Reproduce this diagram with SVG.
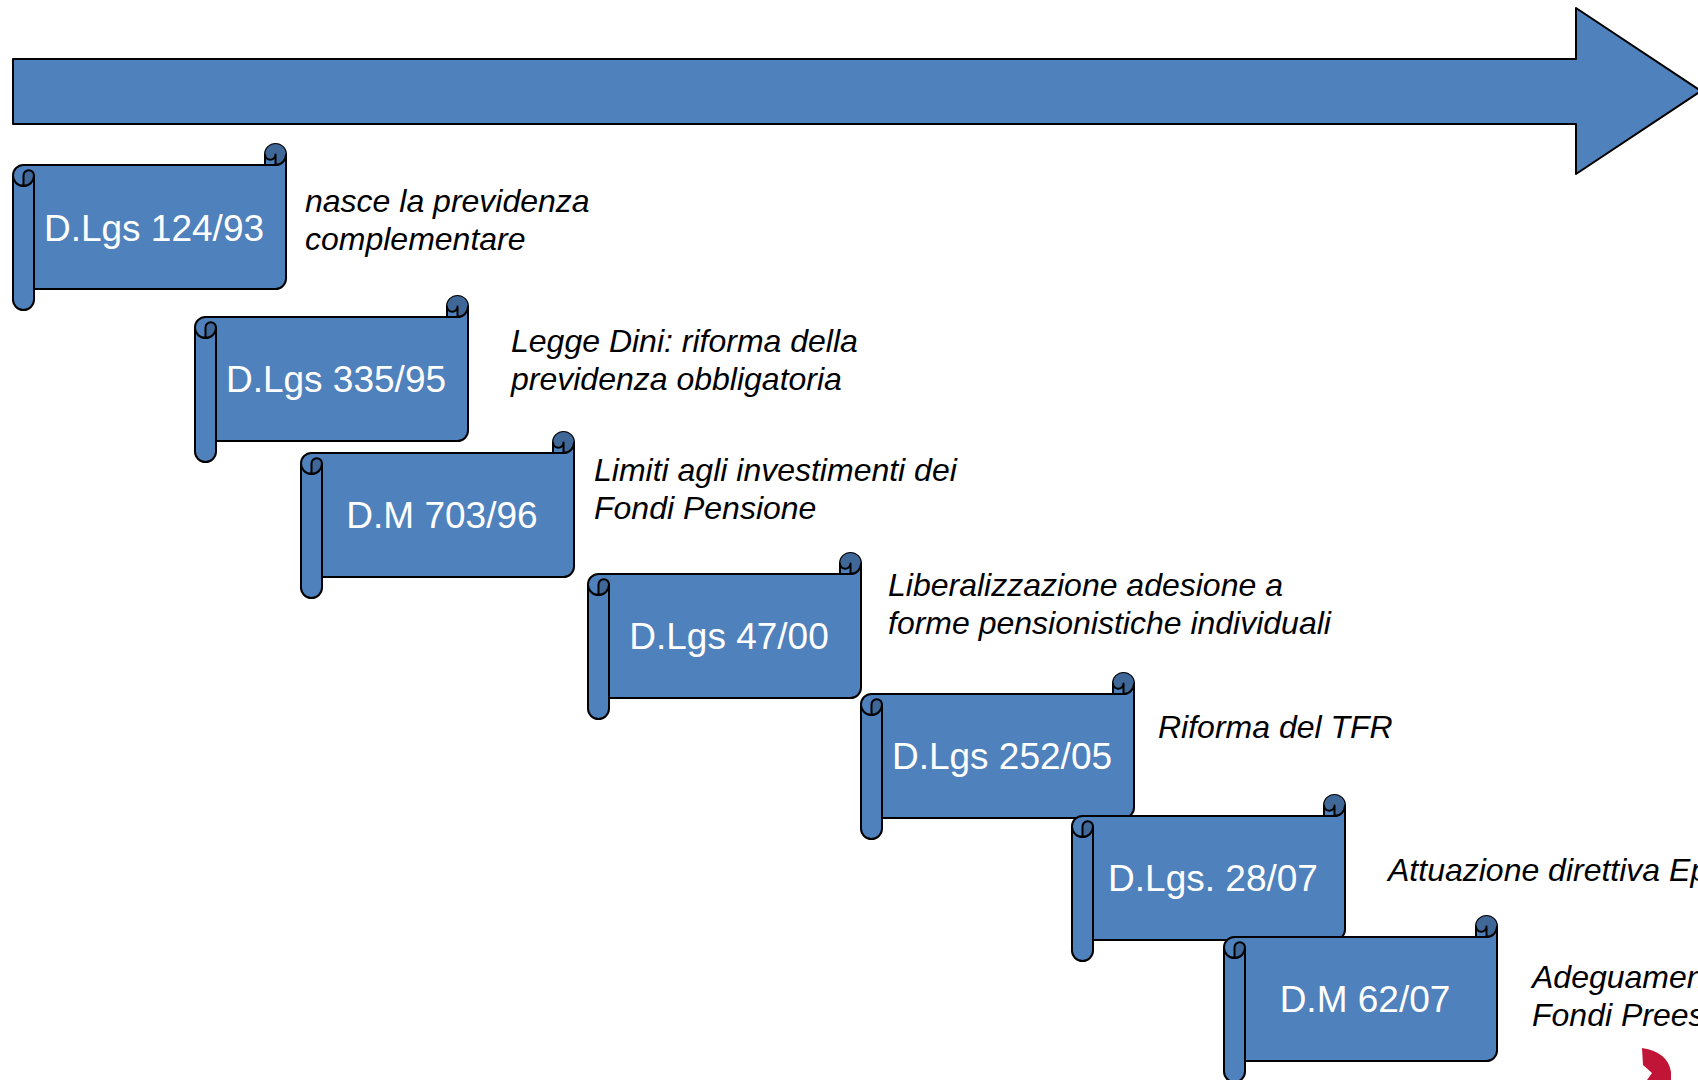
<svg xmlns="http://www.w3.org/2000/svg" xmlns:xlink="http://www.w3.org/1999/xlink" width="1698" height="1080" viewBox="0 0 1698 1080">
  <style>
    .body { fill: #4F81BD; stroke: #000; stroke-width: 2; stroke-linejoin: round; }
    .dark { fill: #3F6797; stroke: none; }
    .line { fill: none; stroke: #000; stroke-width: 2; stroke-linejoin: round; stroke-linecap: round; }
    .label { font-family: "Liberation Sans", Arial, sans-serif; font-size: 37px; fill: #FFFFFF; text-anchor: middle; }
    .desc { font-family: "Liberation Sans", Arial, sans-serif; font-size: 32px; font-style: italic; fill: #000000; }
  </style>
  <defs>
    <g id="scroll">
      <path class="body" d="M0,31.5 A10.5,10.5 0 0 1 10.5,21 L252,21 L252,10.5 A10.5,10.5 0 0 1 273,10.5 L273,134.5 A10.5,10.5 0 0 1 262.5,145 L21,145 L21,155.5 A10.5,10.5 0 0 1 0,155.5 Z"/>
      <path class="dark" d="M10.5,42 A10.5,10.5 0 0 0 21,31.5 A5.25,5.25 0 0 0 10.5,31.5 Z"/>
      <path class="dark" d="M262.5,21 A10.5,10.5 0 1 0 252,10.5 A5.25,5.25 0 0 0 262.5,10.5 Z"/>
      <path class="line" d="M252,21 L262.5,21 A10.5,10.5 0 0 0 273,10.5 M262.5,21 L262.5,10.5 A5.25,5.25 0 0 1 252,10.5 M10.5,42 L10.5,31.5 A5.25,5.25 0 0 1 21,31.5 A10.5,10.5 0 0 1 0,31.5 M21,31.5 L21,145"/>
    </g>
  </defs>

  <g id="timeline-arrow">
    <polygon class="body" points="13,59 1576,59 1576,8 1701,91 1576,174 1576,124 13,124"/>
  </g>

  <g id="connectors"></g>

  <g id="node-dlgs-124-93">
    <use xlink:href="#scroll" href="#scroll" transform="translate(13,144)"/>
    <text class="desc" x="305" y="212">nasce la previdenza<tspan x="305" dy="37.5">complementare</tspan></text>
    <text class="label" x="154" y="241">D.Lgs 124/93</text>
  </g>

  <g id="node-dlgs-335-95">
    <use xlink:href="#scroll" href="#scroll" transform="translate(195,296)"/>
    <text class="label" x="336" y="392">D.Lgs 335/95</text>
    <text class="desc" x="511" y="352">Legge Dini: riforma della<tspan x="511" dy="37.5">previdenza obbligatoria</tspan></text>
  </g>

  <g id="node-dm-703-96">
    <use xlink:href="#scroll" href="#scroll" transform="translate(301,432)"/>
    <text class="label" x="442" y="528">D.M 703/96</text>
    <text class="desc" x="594" y="481">Limiti agli investimenti dei<tspan x="594" dy="37.5">Fondi Pensione</tspan></text>
  </g>

  <g id="node-dlgs-47-00">
    <use xlink:href="#scroll" href="#scroll" transform="translate(588,553)"/>
    <text class="label" x="729" y="649">D.Lgs 47/00</text>
    <text class="desc" x="888" y="596">Liberalizzazione adesione a<tspan x="888" dy="37.5">forme pensionistiche individuali</tspan></text>
  </g>

  <g id="node-dlgs-252-05">
    <use xlink:href="#scroll" href="#scroll" transform="translate(861,673)"/>
    <text class="label" x="1002" y="769">D.Lgs 252/05</text>
    <text class="desc" x="1158" y="738">Riforma del TFR</text>
  </g>

  <g id="node-dlgs-28-07">
    <use xlink:href="#scroll" href="#scroll" transform="translate(1072,795)"/>
    <text class="label" x="1213" y="891">D.Lgs. 28/07</text>
    <text class="desc" x="1388" y="881">Attuazione direttiva Ep</text>
  </g>

  <g id="node-dm-62-07">
    <use xlink:href="#scroll" href="#scroll" transform="translate(1224,916)"/>
    <text class="label" x="1365" y="1012">D.M 62/07</text>
    <text class="desc" x="1532" y="988">Adeguamen<tspan x="1532" dy="37.5">Fondi Prees</tspan></text>
  </g>

  <g id="logo-fragment">
    <path d="M1642,1048 Q1668,1052 1671,1072 L1671,1080 L1647,1080 L1652,1073 L1643,1065 Z" fill="#C01537"/>
  </g>
</svg>
